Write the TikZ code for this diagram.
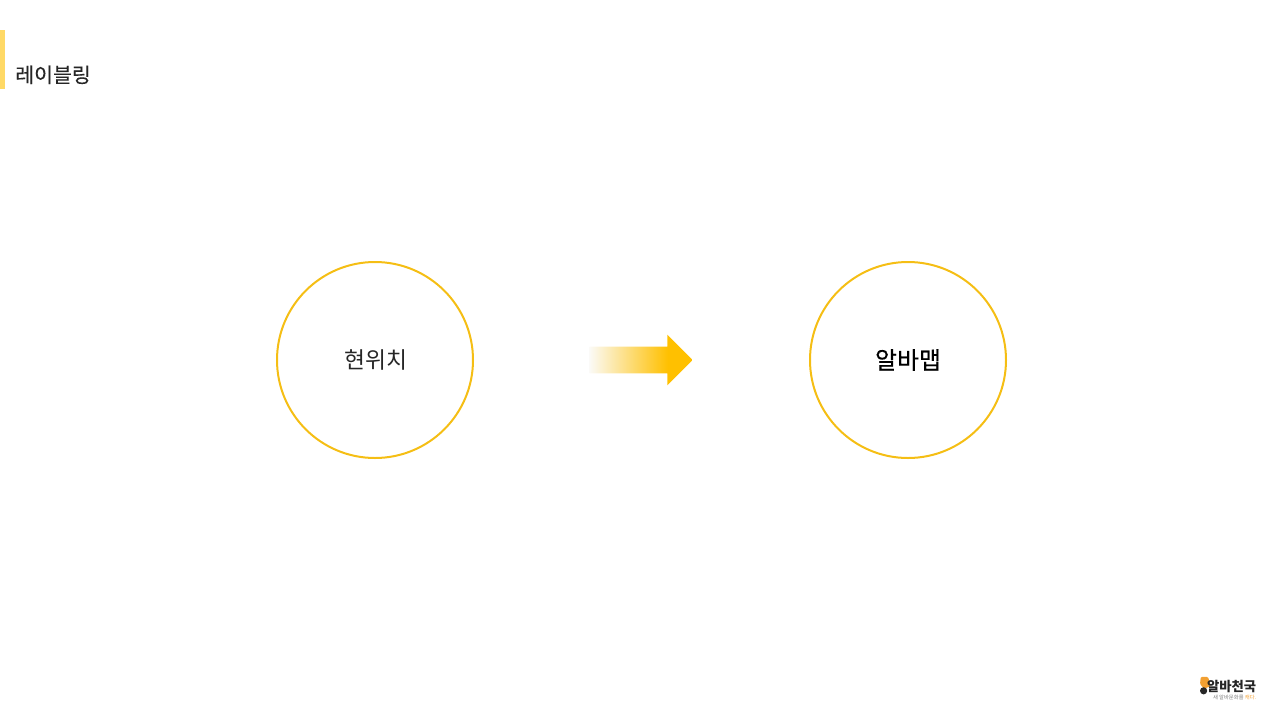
\documentclass[tikz,border=0pt]{standalone}
\usepackage{xcolor}
\usepackage{fontspec}
\setmainfont{Noto Sans CJK KR}
\usepackage{tikz}
\usetikzlibrary{shapes,arrows,positioning,calc}

\definecolor{ringgold}{HTML}{F5BE14}
\definecolor{bargold}{HTML}{FFD966}
\definecolor{arrowgold}{HTML}{FFC000}
\definecolor{fadestart}{HTML}{FBFAF6}
\definecolor{titleink}{HTML}{262626}
\definecolor{logoorange}{HTML}{F2A032}
\pgfdeclarehorizontalshading{arrowfade}{100bp}{color(0bp)=(fadestart); color(25bp)=(fadestart); color(63bp)=(arrowgold); color(100bp)=(arrowgold)}

\begin{document}
\begin{tikzpicture}[
            ring/.style={draw=ringgold, circle, line width=0.05cm, minimum size=4.9cm, inner sep=0pt},
            fadearrow/.style={single arrow, minimum height=2.575cm, inner xsep=0pt, inner ysep=0.325cm,
                single arrow head extend=0.3cm, shading=arrowfade}
        ]
            \useasboundingbox (0,0) rectangle (32,-18);

            % Title bar
            \fill[bargold] (0,-0.75) rectangle (0.125,-2.225);
            \node[anchor=west, inner sep=0pt, text=titleink, font=\fontsize{14.6pt}{16pt}\selectfont] (title) at (0.375,-1.87) {\addfontfeature{FakeBold=0.25}레이블링};

            % Circles and arrow
            \node[ring, text=titleink, font=\fontsize{16.2pt}{18pt}\selectfont] (current) at (9.375,-9) {\hspace*{0.06cm}현위치};
            \node[ring, font=\fontsize{17pt}{18pt}\selectfont] (map) at (22.7,-9) {\addfontfeature{FakeBold=0.3}알바맵};
            \node[fadearrow] (shift) at (15.86,-9) {};

            % Logo
            \fill[logoorange, rounded corners=0.03cm] (30.02,-16.92) -- (30.2,-16.92) -- (30.27,-17.15) -- (30.1,-17.22) -- (30.0,-17.1) -- cycle;
            \fill[titleink] (30.09,-17.27) circle (0.09);
            \node[anchor=west, inner sep=0pt, text=titleink, font=\fontsize{9.5pt}{10pt}\selectfont\bfseries] (logo) at (30.17,-17.16) {알바천국};
            \node[inner sep=0pt, text=gray, font=\fontsize{3.8pt}{4pt}\selectfont, below=0.05cm of logo.south east, anchor=north east] (slogan) {새 알바문화를 \textcolor{logoorange}{캐다.}};
        \end{tikzpicture}
\end{document}
